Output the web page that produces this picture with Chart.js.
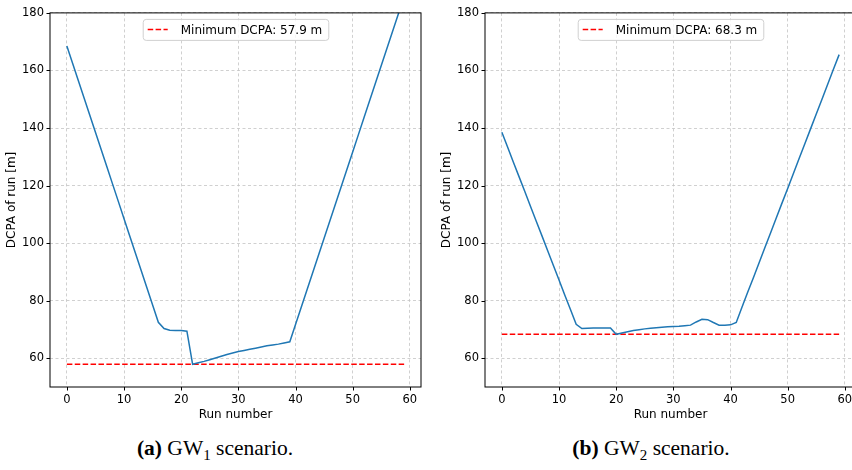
<!DOCTYPE html>
<html>
<head>
<meta charset="utf-8">
<script src="https://cdn.jsdelivr.net/npm/chart.js@4.4.0/dist/chart.umd.min.js"></script>
<style>
  html, body { margin: 0; padding: 0; background: #fff; }
  #page { position: relative; width: 852px; height: 470px; overflow: hidden; }
  canvas { position: absolute; top: 0; }
  #c1 { left: 0; }
  #c2 { left: 435px; }
  .caption {
    position: absolute; top: 436px; width: 320px; text-align: center;
    font-family: "Liberation Serif", "DejaVu Serif", serif; font-size: 21.5px; color: #000;
  }
  .caption sub { font-size: 15px; vertical-align: -5px; }
</style>
</head>
<body>
<div id="page">
  <canvas id="c1" width="430" height="423"></canvas>
  <canvas id="c2" width="430" height="423"></canvas>
  <div class="caption" style="left:55px"><b>(a)</b> GW<sub>1</sub> scenario.</div>
  <div class="caption" style="left:491px"><b>(b)</b> GW<sub>2</sub> scenario.</div>
</div>
<script>
// run index
const runs = [0, 1, 2, 3, 4, 5, 6, 7, 8, 9, 10, 11, 12, 13, 14, 15, 16, 17, 18, 19,
  20, 21, 22, 23, 24, 25, 26, 27, 28, 29, 30, 31, 32, 33, 34, 35, 36, 37, 38, 39,
  40, 41, 42, 43, 44, 45, 46, 47, 48, 49, 50, 51, 52, 53, 54, 55, 56, 57, 58, 59];

// DCPA of each run, GW1 scenario
const gw1Dcpa = [168.5, 162.5, 156.5, 150.5, 144.5, 138.5, 132.5, 126.5, 120.5, 114.5,
  108.5, 102.5, 96.5, 90.5, 84.5, 78.5, 72.5, 70.3, 69.7, 69.6,
  69.6, 69.4, 57.9, 58.4, 58.9, 59.5, 60.1, 60.7, 61.3, 61.8,
  62.3, 62.7, 63.1, 63.5, 63.9, 64.3, 64.6, 64.9, 65.3, 65.7,
  71.7, 77.7, 83.7, 89.7, 95.7, 101.7, 107.7, 113.7, 119.7, 125.7,
  131.7, 137.7, 143.7, 149.7, 155.7, 161.7, 167.7, 173.7, 179.7, 185.7];

// DCPA of each run, GW2 scenario
const gw2Dcpa = [138.5, 133.4, 128.2, 123.1, 118.0, 112.8, 107.7, 102.6, 97.4, 92.3,
  87.2, 82.0, 76.9, 71.8, 70.3, 70.4, 70.5, 70.5, 70.5, 70.5,
  68.3, 68.8, 69.2, 69.6, 69.9, 70.2, 70.4, 70.6, 70.8, 70.9,
  71.0, 71.1, 71.3, 71.5, 72.6, 73.5, 73.4, 72.4, 71.5, 71.5,
  71.6, 72.4, 77.7, 82.9, 88.0, 93.2, 98.4, 103.5, 108.7, 113.9,
  119.0, 124.2, 129.4, 134.5, 139.7, 144.9, 150.0, 155.2, 160.4, 165.5];

const gw1Min = 57.9;
const gw2Min = 68.3;

const xTicks = [0, 10, 20, 30, 40, 50, 60];
const yTicks = [60, 80, 100, 120, 140, 160, 180];

const FONT = "'DejaVu Sans', sans-serif";
const redDash = [5.5, 2.4];

// spines, tick marks and the boxed legend, drawn the matplotlib way
const axesDecor = {
  id: 'axesDecor',
  afterDraw(chart, args, opts) {
    const { ctx, chartArea: a, scales } = chart;
    ctx.save();
    ctx.strokeStyle = '#000';
    ctx.lineWidth = 1;
    ctx.strokeRect(a.left, a.top, a.right - a.left, a.bottom - a.top);

    ctx.beginPath();
    scales.x.ticks.forEach(t => {
      const px = Math.round(scales.x.getPixelForValue(t.value)) + 0.5;
      ctx.moveTo(px, a.bottom);
      ctx.lineTo(px, a.bottom + 3.5);
    });
    scales.y.ticks.forEach(t => {
      const py = Math.round(scales.y.getPixelForValue(t.value)) + 0.5;
      ctx.moveTo(a.left, py);
      ctx.lineTo(a.left - 3.5, py);
    });
    ctx.stroke();

    // legend
    ctx.font = '12px ' + FONT;
    const label = opts.text;
    const tw = ctx.measureText(label).width;
    const w = 5 + 20 + 13 + tw + 6;
    const h = 21;
    const x0 = (a.left + a.right) / 2 - w / 2;
    const y0 = a.top + 6;
    ctx.beginPath();
    ctx.roundRect(x0 + 0.5, y0 + 0.5, w, h, 3);
    ctx.fillStyle = 'rgba(255,255,255,0.8)';
    ctx.fill();
    ctx.strokeStyle = '#d0d0d0';
    ctx.lineWidth = 1;
    ctx.stroke();

    ctx.beginPath();
    ctx.setLineDash(redDash);
    ctx.strokeStyle = '#ff0000';
    ctx.lineWidth = 1.5;
    ctx.moveTo(x0 + 5, y0 + h / 2);
    ctx.lineTo(x0 + 25, y0 + h / 2);
    ctx.stroke();
    ctx.setLineDash([]);

    ctx.fillStyle = '#000';
    ctx.textBaseline = 'middle';
    ctx.fillText(label, x0 + 38, y0 + h / 2 + 1);
    ctx.restore();
  }
};

function makeChart(id, values, minValue) {
  const ctx = document.getElementById(id).getContext('2d');
  return new Chart(ctx, {
    type: 'line',
    data: {
      datasets: [{
        data: runs.map((r, i) => ({ x: r, y: values[i] })),
        borderColor: '#1f77b4',
        borderWidth: 1.5,
        pointRadius: 0,
        tension: 0
      }, {
        data: [{ x: runs[0], y: minValue }, { x: runs[runs.length - 1], y: minValue }],
        borderColor: '#ff0000',
        borderWidth: 1.5,
        borderDash: redDash,
        pointRadius: 0
      }]
    },
    options: {
      responsive: false,
      animation: false,
      layout: { padding: { top: 11, right: 9, left: 0, bottom: 0 } },
      plugins: {
        legend: { display: false },
        tooltip: { enabled: false },
        axesDecor: { text: 'Minimum DCPA: ' + minValue + ' m' }
      },
      scales: {
        x: {
          type: 'linear',
          min: -2.95,
          max: 61.95,
          afterBuildTicks: s => { s.ticks = xTicks.map(v => ({ value: v })); },
          afterFit: s => { s.height = 36; },
          grid: { color: '#c4c4c4', lineWidth: 0.8, drawTicks: false },
          border: { display: false, dash: [3, 2.5] },
          ticks: { color: '#000', font: { family: FONT, size: 11.5 }, padding: 6, maxRotation: 0 },
          title: { display: true, text: 'Run number', color: '#000',
                   font: { family: FONT, size: 12 }, padding: { top: 0, bottom: 1 } }
        },
        y: {
          min: 50,
          max: 180,
          afterBuildTicks: s => { s.ticks = yTicks.map(v => ({ value: v })); },
          afterFit: s => { s.width = 50; },
          grid: { color: '#c4c4c4', lineWidth: 0.8, drawTicks: false },
          border: { display: false, dash: [3, 2.5] },
          ticks: { color: '#000', font: { family: FONT, size: 11.5 }, padding: 6 },
          title: { display: true, text: 'DCPA of run [m]', color: '#000',
                   font: { family: FONT, size: 12 }, padding: { top: 5, bottom: 0 } }
        }
      }
    },
    plugins: [axesDecor]
  });
}

makeChart('c1', gw1Dcpa, gw1Min);
makeChart('c2', gw2Dcpa, gw2Min);
</script>
</body>
</html>
